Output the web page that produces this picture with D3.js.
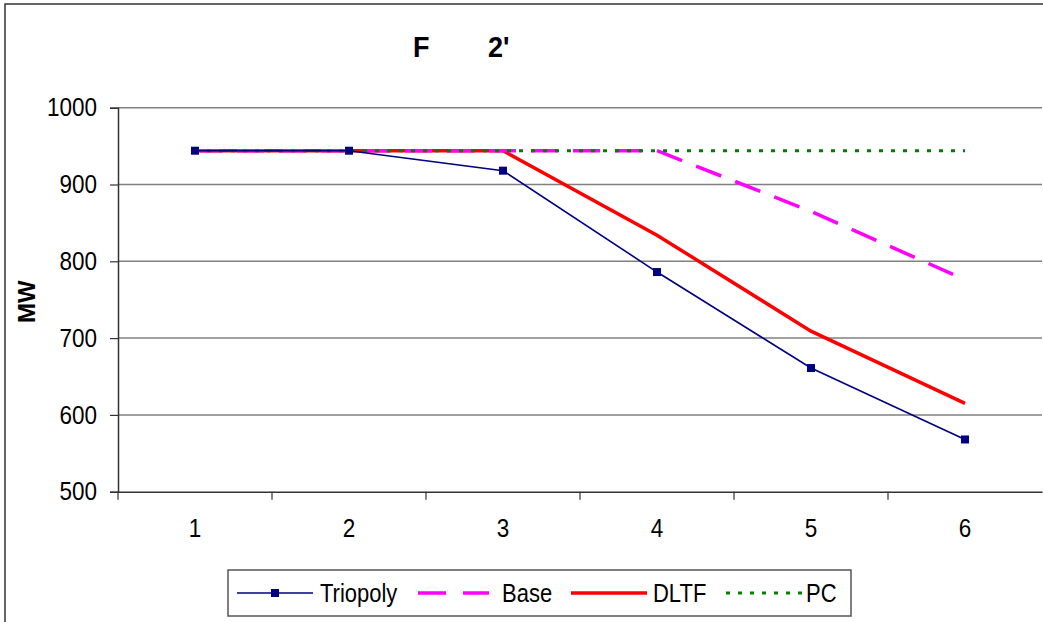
<!DOCTYPE html>
<html>
<head>
<meta charset="utf-8">
<script src="https://cdnjs.cloudflare.com/ajax/libs/d3/7.8.5/d3.min.js"></script>
<style>
  body { margin: 0; background: #fff; }
  text { font-family: "Liberation Sans", Arial, sans-serif; }
</style>
</head>
<body>
<div id="chart-area"></div>
<script>
// Datos
var categories = ["1", "2", "3", "4", "5", "6"];
var triopoly = [944, 944, 918, 786, 661, 568];
var base = [944, 944, 944, 944, 865, 776];
var dltf = [944, 944, 944, 834, 709, 615];
var pc = [944, 944, 944, 944, 944, 944];
var yTicks = [500, 600, 700, 800, 900, 1000];
var seriesNames = ["Triopoly", "Base", "DLTF", "PC"];

var W = 1043, H = 622;
var plot = {left: 118, top: 107.7, right: 1042, bottom: 491.7};
var stretch = 1.15; // el texto original es algo mas alto que ancho

var svg = d3.select("#chart-area")
    .append("svg")
    .attr("width", W)
    .attr("height", H);

// Marco exterior
svg.append("rect")
    .attr("x", 5).attr("y", 4)
    .attr("width", W + 10).attr("height", H + 10)
    .attr("fill", "white")
    .attr("stroke", "#333")
    .attr("stroke-width", 1.5);

// Escalas
var x = d3.scaleBand()
    .domain(categories)
    .range([plot.left, plot.right])
    .padding(0);

var y = d3.scaleLinear()
    .domain([500, 1000])
    .range([plot.bottom, plot.top]);

var cx = function(d, i) { return x(categories[i]) + x.bandwidth() / 2; };

// Grid
svg.append("g")
    .selectAll("line")
    .data(yTicks.filter(function(t) { return t > 500; }))
    .enter().append("line")
    .attr("x1", plot.left).attr("x2", plot.right)
    .attr("y1", function(d) { return y(d); })
    .attr("y2", function(d) { return y(d); })
    .attr("stroke", "#808080")
    .attr("stroke-width", 1.5);

// Eje Y
var leftAxis = d3.axisLeft(y).tickValues(yTicks).tickFormat(d3.format("d")).tickSize(8).tickPadding(13);
var gy = svg.append("g")
    .attr("transform", "translate(" + plot.left + ",0)")
    .call(leftAxis);
gy.select(".domain").attr("stroke", "#333").attr("stroke-width", 1.5);
gy.selectAll(".tick line").attr("stroke", "#333").attr("stroke-width", 1.2);
gy.selectAll("text")
    .attr("font-size", "22.5px")
    .attr("fill", "#000")
    .attr("transform", "scale(1," + stretch + ")")
    .style("font-family", "'Liberation Sans', Arial, sans-serif");

// Eje X
var bottomAxis = d3.axisBottom(x).tickSize(0).tickPadding(23.5);
var gx = svg.append("g")
    .attr("transform", "translate(0," + plot.bottom + ")")
    .call(bottomAxis);
gx.select(".domain").attr("stroke", "#333").attr("stroke-width", 1.5);
gx.selectAll("text")
    .attr("font-size", "22.5px")
    .attr("fill", "#000")
    .attr("transform", "scale(1," + stretch + ")")
    .style("font-family", "'Liberation Sans', Arial, sans-serif");

// marcas entre categorias
svg.append("g")
    .selectAll("line")
    .data(categories)
    .enter().append("line")
    .attr("x1", function(d) { return x(d); })
    .attr("x2", function(d) { return x(d); })
    .attr("y1", plot.bottom)
    .attr("y2", plot.bottom + 8)
    .attr("stroke", "#333")
    .attr("stroke-width", 1.2);

// Titulo
var title = svg.append("text")
    .attr("transform", "translate(0,57) scale(1,1.1)")
    .attr("font-size", "27px")
    .attr("font-weight", "bold");
title.append("tspan").attr("x", 413).text("F");
title.append("tspan").attr("x", 488).text("2'");

// Etiqueta Y
svg.append("text")
    .attr("transform", "translate(35," + ((plot.top + plot.bottom) / 2 + 2) + ") rotate(-90)")
    .attr("text-anchor", "middle")
    .attr("font-size", "24px")
    .attr("font-weight", "bold")
    .text("MW");

// Lineas
var line = d3.line()
    .x(cx)
    .y(function(d) { return y(d); });

var styles = {
    Triopoly: {color: "#000080", width: 1.6, dash: null},
    Base: {color: "#FF00FF", width: 3.5, dash: "27,15"},
    DLTF: {color: "#FF0000", width: 3.5, dash: null},
    PC: {color: "#008000", width: 3, dash: "4,8"}
};

var drawOrder = [["DLTF", dltf], ["Base", base], ["PC", pc], ["Triopoly", triopoly]];
drawOrder.forEach(function(s) {
    var st = styles[s[0]];
    svg.append("path")
        .datum(s[1])
        .attr("d", line)
        .attr("fill", "none")
        .attr("stroke", st.color)
        .attr("stroke-width", st.width)
        .attr("stroke-dasharray", st.dash);
});

// Marcadores Triopoly
svg.append("g")
    .selectAll("rect")
    .data(triopoly)
    .enter().append("rect")
    .attr("x", function(d, i) { return cx(d, i) - 4; })
    .attr("y", function(d) { return y(d) - 4; })
    .attr("width", 8)
    .attr("height", 8)
    .attr("fill", "#000080");

// Leyenda
var legend = svg.append("g");
legend.append("rect")
    .attr("x", 228).attr("y", 570)
    .attr("width", 623).attr("height", 46)
    .attr("fill", "white")
    .attr("stroke", "#555")
    .attr("stroke-width", 1.5);

var legendItems = [
    {name: "Triopoly", x1: 237, x2: 313, tx: 320},
    {name: "Base", x1: 418, x2: 489, tx: 502},
    {name: "DLTF", x1: 571, x2: 647, tx: 653},
    {name: "PC", x1: 726, x2: 802, tx: 806}
];
var ly = 593;
legendItems.forEach(function(it) {
    var st = styles[it.name];
    legend.append("line")
        .attr("x1", it.x1).attr("x2", it.x2)
        .attr("y1", ly).attr("y2", ly)
        .attr("stroke", st.color)
        .attr("stroke-width", st.width)
        .attr("stroke-dasharray", it.name === "Base" ? "28,17" : st.dash);
    if (it.name === "Triopoly") {
        legend.append("rect")
            .attr("x", (it.x1 + it.x2) / 2 - 4).attr("y", ly - 4)
            .attr("width", 8).attr("height", 8)
            .attr("fill", st.color);
    }
    legend.append("text")
        .attr("transform", "translate(" + it.tx + "," + (ly + 9) + ") scale(1," + stretch + ")")
        .attr("font-size", "22px")
        .text(it.name);
});
</script>
</body>
</html>
